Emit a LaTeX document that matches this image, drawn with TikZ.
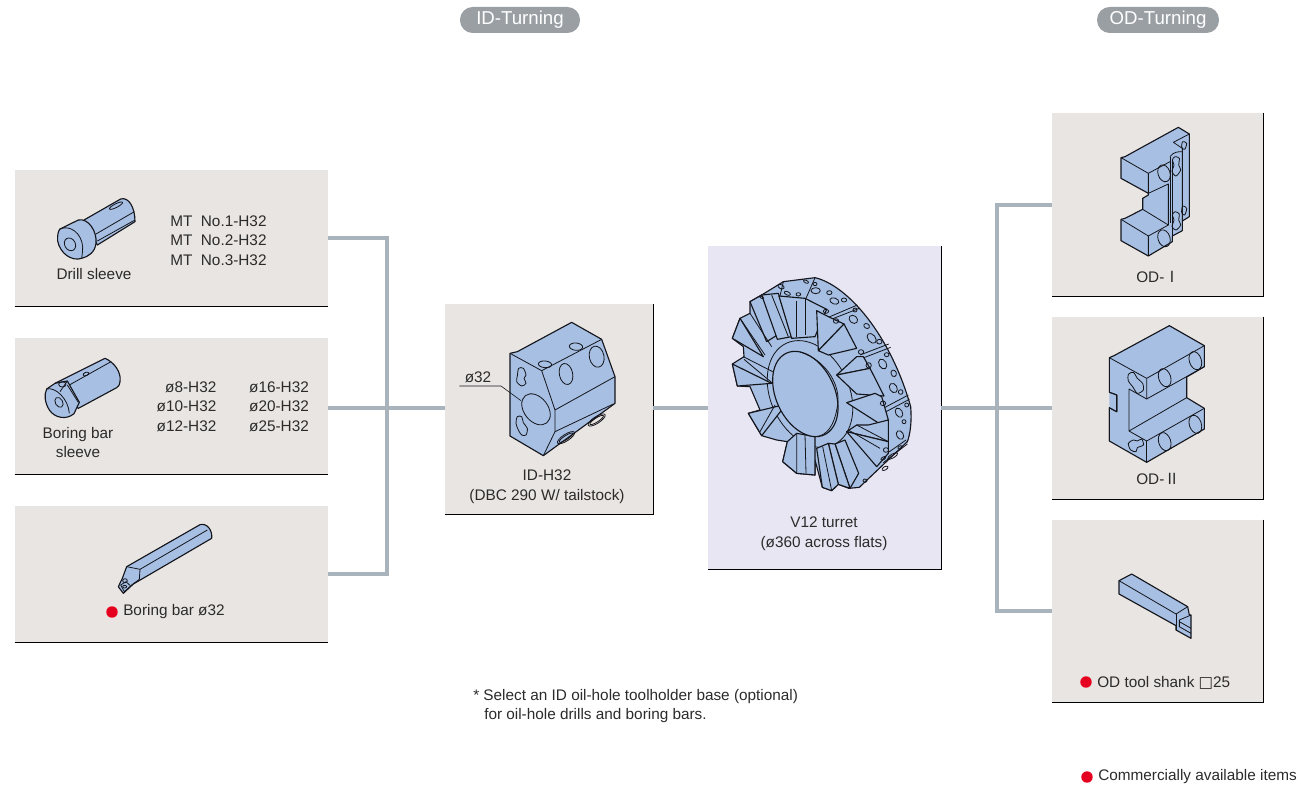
\documentclass[tikz,border=0pt]{standalone}
\usepackage{fontspec}
\setmainfont{Liberation Sans}
\newfontfamily\symfont{DejaVu Sans}
\newfontfamily\cjkfont{Noto Sans CJK JP}
\definecolor{boxfill}{HTML}{E9E5E2}
\definecolor{turretfill}{HTML}{E8E6F2}
\definecolor{conncol}{HTML}{A9B3BB}
\definecolor{pillcol}{HTML}{9A9FA4}
\definecolor{partfill}{HTML}{A6BFE3}
\definecolor{textcol}{HTML}{2B2B2B}
\definecolor{reddot}{HTML}{E60020}
\definecolor{edgecol}{HTML}{15151C}
\tikzset{
  pbox/.style={rectangle,fill=boxfill,inner sep=0pt,draw=none},
  tbox/.style={pbox,fill=turretfill},
  edge/.style={draw=black,line width=1.1pt},
  conn/.style={draw=conncol,line width=3pt},
  lab/.style={inner sep=0pt,text=textcol,font=\fontsize{11.5}{14.6}\selectfont,align=center},
  labl/.style={lab,align=left,anchor=west},
  pill/.style={rectangle,rounded corners=9.5pt,fill=pillcol,text=white,inner sep=0pt,minimum height=19.5pt,font=\fontsize{14}{16}\selectfont},
  dot/.style={circle,fill=reddot,inner sep=0pt,minimum size=8.6pt},
  part/.style={fill=partfill,draw=edgecol,line width=.85pt,line join=round},
  pl/.style={draw=edgecol,line width=.6pt,line join=round},
  thin/.style={draw=edgecol,line width=.45pt}
}
\newcommand{\partHole}[5]{\draw[pl] (#1,#2) ellipse[x radius=#3,y radius=#4,rotate=#5];}
\begin{document}
\begin{tikzpicture}[x=.75pt,y=-.75pt]
\useasboundingbox (0,0) rectangle (1309,792);
% ---------- boxes
\node[pbox,minimum width=234.75pt,minimum height=102pt] (drill) at (171.5,238) {};
\node[pbox,minimum width=234.75pt,minimum height=102pt] (sleeve) at (171.5,406) {};
\node[pbox,minimum width=234.75pt,minimum height=102pt] (bar) at (171.5,574) {};
\node[pbox,minimum width=156pt,minimum height=157.5pt] (idh) at (549,409) {};
\node[tbox,minimum width=174.75pt,minimum height=242.25pt] (turret) at (824.5,407.5) {};
\node[pbox,minimum width=158.25pt,minimum height=137.25pt] (odone) at (1157.5,204.5) {};
\node[pbox,minimum width=158.25pt,minimum height=136.5pt] (odtwo) at (1157.5,408) {};
\node[pbox,minimum width=158.25pt,minimum height=136.5pt] (odthree) at (1157.5,611) {};
\foreach \n in {drill,sleeve,bar}
  \draw[edge] (\n.south west) -- (\n.south east);
\foreach \n in {idh,turret,odone,odtwo,odthree}
  \draw[edge] (\n.north east) -- (\n.south east) -- (\n.south west);
% ---------- connectors
\coordinate (busL) at (387,408);
\coordinate (busR) at (997,408);
\draw[conn] (drill.east) -| (busL);
\draw[conn] (bar.east) -| (busL);
\draw[conn] (sleeve.east |- busL) -- (idh.west |- busL);
\draw[conn] (idh.east |- busL) -- (turret.west |- busL);
\draw[conn] (turret.east |- busL) -- (odtwo.west |- busL);
\draw[conn] (odone.west) -| (busR);
\draw[conn] (odthree.west) -| (busR);
% ---------- headers
\node[pill,minimum width=90pt] (idturn) at (520,20) {ID-Turning};
\node[pill,minimum width=91.5pt] (odturn) at (1158,20) {OD-Turning};
% ---------- labels
\node[lab] (tdrill) at (94,274) {Drill sleeve};
\node[labl] (tmt) at (170,240.5) {MT\ \ No.1-H32\\MT\ \ No.2-H32\\MT\ \ No.3-H32};
\node[lab] (tsleeve) at (78,442.5) {\fontsize{11.5}{12.8}\selectfont Boring bar\\sleeve};
\node[lab,align=right] (tsa) at (186.5,406.5) {ø8-H32\\ø10-H32\\ø12-H32};
\node[lab,align=right] (tsb) at (279,406.5) {ø16-H32\\ø20-H32\\ø25-H32};
\node[dot] (dbar) at (112,612) {};
\node[labl] (tbar) at (123,612) {Boring bar ø32};
\node[lab] (tid) at (547,486.5) {\fontsize{11.5}{15.8}\selectfont ID-H32\\(DBC 290 W/ tailstock)};
\node[lab] (tphi) at (478,377) {ø32};
\node[lab] (ttur) at (824,533.5) {\fontsize{11.5}{15.8}\selectfont V12 turret\\(ø360 across flats)};
\node[lab] (todone) at (1158,277) {OD-{\cjkfont Ⅰ}};
\node[lab] (todtwo) at (1158,479) {OD-{\cjkfont Ⅱ}};
\node[dot] (dod) at (1086,682) {};
\node[labl] (todthree) at (1097,683) {OD tool shank {\symfont □}25};
\node[labl] (tnote) at (473,697) {* Select an ID oil-hole toolholder base (optional)};
\node[labl] (tnoteb) at (484,716) {for oil-hole drills and boring bars.};
\node[dot] (dcom) at (1087,777) {};
\node[labl] (tcom) at (1098,777) {Commercially available items};
% ---------- drill sleeve
\begin{scope}[shift={(10,165)},x=.25pt,y=-.25pt]
\draw[part] (222,165)--(332,102) .. controls (355,95) and (375,125) .. (375,170)--(262,240)--cycle;
\draw[pl] (258,207)--(373,140);
\draw[pl] (262,228)--(375,165);
\partHole{318}{122}{22}{5.5}{27}
\draw[part] (150,192)--(205,165) .. controls (235,158) and (262,200) .. (258,235) .. controls (255,262) and (235,275) .. (215,280) .. controls (185,290) and (150,265) .. (143,228) .. controls (142,212) and (144,198) .. (150,192)--cycle;
\draw[pl] (150,192) .. controls (180,178) and (215,205) .. (218,245) .. controls (218,262) and (216,272) .. (215,280);
\partHole{180}{238}{20}{16}{-60}
\end{scope}
% ---------- boring bar sleeve
\begin{scope}[shift={(10,165)},x=.25pt,y=-.25pt]
\draw[part] (135,655)--(285,580) .. controls (310,590) and (335,620) .. (330,650) .. controls (328,662) and (325,665) .. (320,668)--(205,730)--(170,700)--cycle;
\draw[pl] (178,660)--(303,590);
\partHole{228}{627}{9}{5}{20}
\draw[part] (110,672)--(135,655)--(172,648)--(208,712)--(192,746) .. controls (170,765) and (135,760) .. (118,735) .. controls (104,712) and (102,690) .. (110,672)--cycle;
\draw[pl] (110,672) .. controls (135,665) and (175,700) .. (178,745) (172,648)--(150,680);
\draw[pl] (172,660)--(205,712);
\partHole{157}{658}{11}{8}{0}
\partHole{147}{712}{16}{11}{-60}
\end{scope}
% ---------- boring bar
\begin{scope}[shift={(90,510)},x=.25pt,y=-.25pt]
\draw[part] (110,170)--(330,44) .. controls (350,38) and (368,60) .. (365,85)--(130,222)--(100,250)--(85,230)--(97,205)--cycle;
\draw[pl] (150,178)--(352,60);
\draw[pl] (110,170)--(150,178)--(148,208)--(125,225);
\draw[pl] (92,225)--(108,215)--(122,228)--(103,245)--cycle;
\partHole{105}{212}{7}{6}{0}
\partHole{104}{230}{6}{4}{0}
\end{scope}
% ---------- ID-H32
\begin{scope}[shift={(440,300)},x=.25pt,y=-.25pt]
\draw[part] (210,160)--(232,155)--(395,67)--(485,118)--(525,230)--(525,310)--(310,467)--(210,408)--cycle;
\draw[pl] (210,160)--(305,212)--(345,330)--(345,395)--(310,467);
\draw[pl] (305,212)--(485,118);
\draw[pl] (345,330)--(525,230);
\draw[pl] (345,395)--(520,312);
\partHole{288}{328}{52}{36}{-52}
\partHole{315}{193}{20}{10}{-5}
\partHole{408}{140}{20}{11}{-5}
\partHole{378}{222}{32}{20}{-78}
\partHole{470}{170}{32}{22}{-78}
\partHole{378}{413}{30}{10}{33}
\partHole{378}{413}{24}{6}{33}
\partHole{470}{360}{30}{10}{33}
\partHole{470}{360}{24}{6}{33}
\draw[pl] plot[smooth cycle] coordinates {(236,205)(250,205)(258,225)(252,235)(258,250)(245,258)(230,245)(232,228)};
\draw[pl] plot[smooth cycle] coordinates {(232,350)(245,350)(250,368)(262,385)(258,405)(245,405)(235,390)(228,370)};
\coordinate (leada) at (58,258);
\coordinate (leadb) at (183,258);
\coordinate (leadc) at (243,302);
\draw[thin] (leada)--(leadb)--(leadc);
\end{scope}
% ---------- OD-I
\begin{scope}[shift={(1050,110)},x=.25pt,y=-.25pt]
\draw[part] (213,143)--(225,140)--(385,52)--(418,72)--(418,320)--(397,333)--(397,362)--(367,378)--(367,395)--(295,438)--(213,392)--(213,328)--(225,325)--(278,298)--(278,265)--(295,255)--(295,250)--(213,205)--cycle;
\draw[pl] (213,143)--(295,190)--(295,250);
\draw[pl] (295,190)--(360,155);
\draw[pl] (418,72)--(370,97)--(397,115)--(397,333);
\draw[pl] (295,250)--(355,222)--(355,345)--(295,378);
\draw[pl] (278,298)--(355,345);
\draw[pl] (213,328)--(295,378)--(295,438);
\draw[pl] (360,140) .. controls (370,125) and (385,125) .. (397,125);
\draw[pl] (360,140)--(360,340);
\draw[pl] (367,150)--(367,378);
\draw[pl] (397,125)--(397,333);
\partHole{342}{190}{26}{18}{-72}
\partHole{342}{385}{26}{18}{-72}
\draw[pl] plot[smooth cycle] coordinates {(375,140)(388,145)(386,165)(392,180)(378,198)(366,185)(372,165)(367,150)};
\draw[pl] plot[smooth cycle] coordinates {(375,305)(388,312)(386,330)(392,345)(378,360)(366,350)(372,330)(367,315)};
\draw[pl] plot[smooth cycle] coordinates {(398,95)(410,100)(404,118)(395,112)};
\draw[pl] plot[smooth cycle] coordinates {(398,288)(410,295)(404,315)(395,308)};
\end{scope}
% ---------- OD-II
\begin{scope}[shift={(1050,315)},x=.25pt,y=-.25pt]
\draw[part] (178,128)--(192,122)--(358,32)--(463,92)--(463,155)--(410,186)--(410,248)--(463,280)--(463,342)--(290,442)--(178,378)--(178,278)--(200,290)--(200,240)--(178,232)--cycle;
\draw[pl] (178,128)--(290,190)--(463,92);
\draw[pl] (290,190)--(290,252)--(463,155);
\draw[pl] (290,252)--(237,222)--(237,348)--(410,248);
\draw[pl] (237,348)--(290,378)--(463,280);
\draw[pl] (290,378)--(290,442);
\draw[part] (178,378)--(178,278)--(200,290)--(200,240)--(178,232);
\partHole{344}{188}{28}{18}{-72}
\partHole{436}{137}{28}{18}{-72}
\partHole{344}{380}{28}{18}{-72}
\partHole{436}{328}{28}{18}{-72}
\draw[pl] plot[smooth cycle] coordinates {(235,178)(250,172)(262,190)(278,205)(280,225)(262,235)(248,215)(235,198)};
\draw[pl] plot[smooth cycle] coordinates {(235,385)(250,375)(262,378)(275,372)(280,390)(262,398)(258,410)(242,405)};
\end{scope}
% ---------- OD tool
\begin{scope}[shift={(1050,520)},x=.25pt,y=-.25pt]
\draw[part] (207,182)--(245,162)--(413,260)--(418,285)--(423,285)--(423,355)--(378,330)--(378,317)--(207,222)--cycle;
\draw[pl] (207,182)--(378,282)--(413,260);
\draw[pl] (378,282)--(378,330);
\draw[pl] (388,300)--(423,285);
\draw[pl] (388,300)--(388,320)--(423,340);
\draw[pl] (388,305)--(423,325);
\end{scope}
% ---------- turret
\begin{scope}[shift={(700,240)},x=.25pt,y=-.25pt]
\draw[part] (250,125)--(345,113) .. controls (440,135) and (570,280) .. (632,500) .. controls (636,545) and (630,585) .. (622,605)--(478,742)--(447,745)--(415,733)--(395,752)--(367,742)--(345,660)--(345,705)--(290,700)--(248,665)--(262,605)--(230,600)--(185,587)--(145,520)--(180,510)--(150,440)--(112,438)--(97,372)--(132,350)--(130,320)--(97,295)--(120,235)--(150,220)--(150,185)--(185,165)--cycle;
\draw[pl] (330,462) ellipse[x radius=168,y radius=118,rotate=-65];
% rim partitions
\draw[pl] (385,232)--(472,195) (388,240)--(478,205);
\draw[pl] (480,345)--(566,312) (484,356)--(572,322);
\draw[pl] (540,510)--(625,465) (545,522)--(628,478);
\draw[pl] (540,655)--(618,600) (550,668)--(622,612);
\draw[pl] (250,125)--(240,168) (345,113)--(318,175);
% teeth top
\draw[part] (150,185)--(185,165)--(240,280)--(200,305)--cycle;
\draw[pl] (190,170)--(240,285) (215,165)--(275,270);
\draw[part] (185,165)--(235,160)--(275,290)--(232,298)--cycle;
\draw[pl] (215,165)--(265,290);
\draw[part] (237,168)--(315,175)--(380,208)--(345,290)--(275,295)--cycle;
\draw[pl] (290,183)--(290,290) (315,175)--(315,285);
\draw[part] (350,212)--(385,230)--(432,252)--(355,332)--cycle;
\draw[part] (432,252)--(470,325)--(385,345)--(355,332)--cycle;
% teeth right
\draw[part] (470,350)--(410,405)--(510,385)--(490,350)--cycle;
\draw[part] (410,405)--(510,385)--(552,468)--(470,462)--cycle;
\draw[part] (525,460)--(440,488)--(540,552)--(565,540)--(545,470)--cycle;
\draw[part] (440,575)--(565,605)--(565,540)--(505,555)--(470,555)--cycle;
\draw[part] (440,575)--(530,680)--(565,640)--(565,605)--cycle;
\draw[pl] (470,555)--(565,605) (445,570)--(540,625);
% teeth bottom
\draw[part] (435,600)--(476,700)--(450,745)--(405,612)--cycle;
\draw[part] (405,612)--(450,745)--(415,733)--(385,610)--cycle;
\draw[part] (350,625)--(385,610)--(415,733)--(395,752)--(367,742)--cycle;
\draw[pl] (368,620)--(395,752);
\draw[part] (262,605)--(290,580)--(345,590)--(345,705)--(290,700)--(248,665)--cycle;
\draw[pl] (290,580)--(290,700) (315,585)--(318,700);
\draw[part] (145,520)--(240,497)--(245,510)--(185,587)--cycle;
\draw[pl] (225,495)--(180,575);
\draw[part] (97,372)--(215,430)--(190,432)--(112,438)--cycle;
\draw[pl] (130,350)--(218,395) (132,358)--(218,430);
\draw[part] (120,235)--(190,350)--(97,295)--cycle;
\draw[pl] (150,220)--(215,320) (120,235)--(195,345);
% disc
\draw[part] (316,462) ellipse[x radius=135,y radius=88,rotate=-65];
\draw[pl] (300,336) .. controls (380,360) and (425,440) .. (412,500) .. controls (402,560) and (380,585) .. (350,590);
% rim holes
\partHole{347}{152}{14}{9}{0}
\partHole{388}{158}{8}{6}{0}
\partHole{403}{183}{14}{9}{-20}
\partHole{432}{180}{8}{6}{0}
\partHole{378}{214}{8}{6}{0}
\partHole{408}{243}{8}{7}{0}
\partHole{465}{210}{6}{6}{0}
\partHole{460}{238}{14}{11}{-40}
\partHole{500}{258}{9}{7}{-30}
\partHole{515}{295}{17}{11}{-50}
\partHole{538}{305}{8}{7}{0}
\partHole{483}{336}{8}{7}{0}
\partHole{506}{376}{8}{8}{0}
\partHole{548}{372}{16}{11}{-60}
\partHole{560}{344}{7}{6}{0}
\partHole{581}{400}{10}{8}{-70}
\partHole{580}{444}{15}{11}{-60}
\partHole{602}{456}{7}{7}{0}
\partHole{549}{490}{8}{7}{0}
\partHole{597}{518}{15}{10}{-60}
\partHole{620}{495}{6}{6}{0}
\partHole{612}{545}{6}{6}{0}
\partHole{600}{585}{14}{10}{-60}
\partHole{558}{630}{8}{7}{0}
\partHole{578}{648}{17}{6}{30}
\partHole{555}{685}{10}{5}{30}
\partHole{550}{655}{8}{4}{30}
\partHole{600}{622}{7}{4}{30}
\partHole{495}{722}{6}{5}{0}
\partHole{243}{140}{10}{6}{-25}
\partHole{262}{160}{10}{5}{-25}
\partHole{295}{163}{7}{5}{0}
\partHole{318}{125}{8}{4}{-25}
\partHole{345}{132}{6}{5}{0}
\partHole{185}{172}{6}{3}{-25}
\end{scope}
\end{tikzpicture}
\end{document}
